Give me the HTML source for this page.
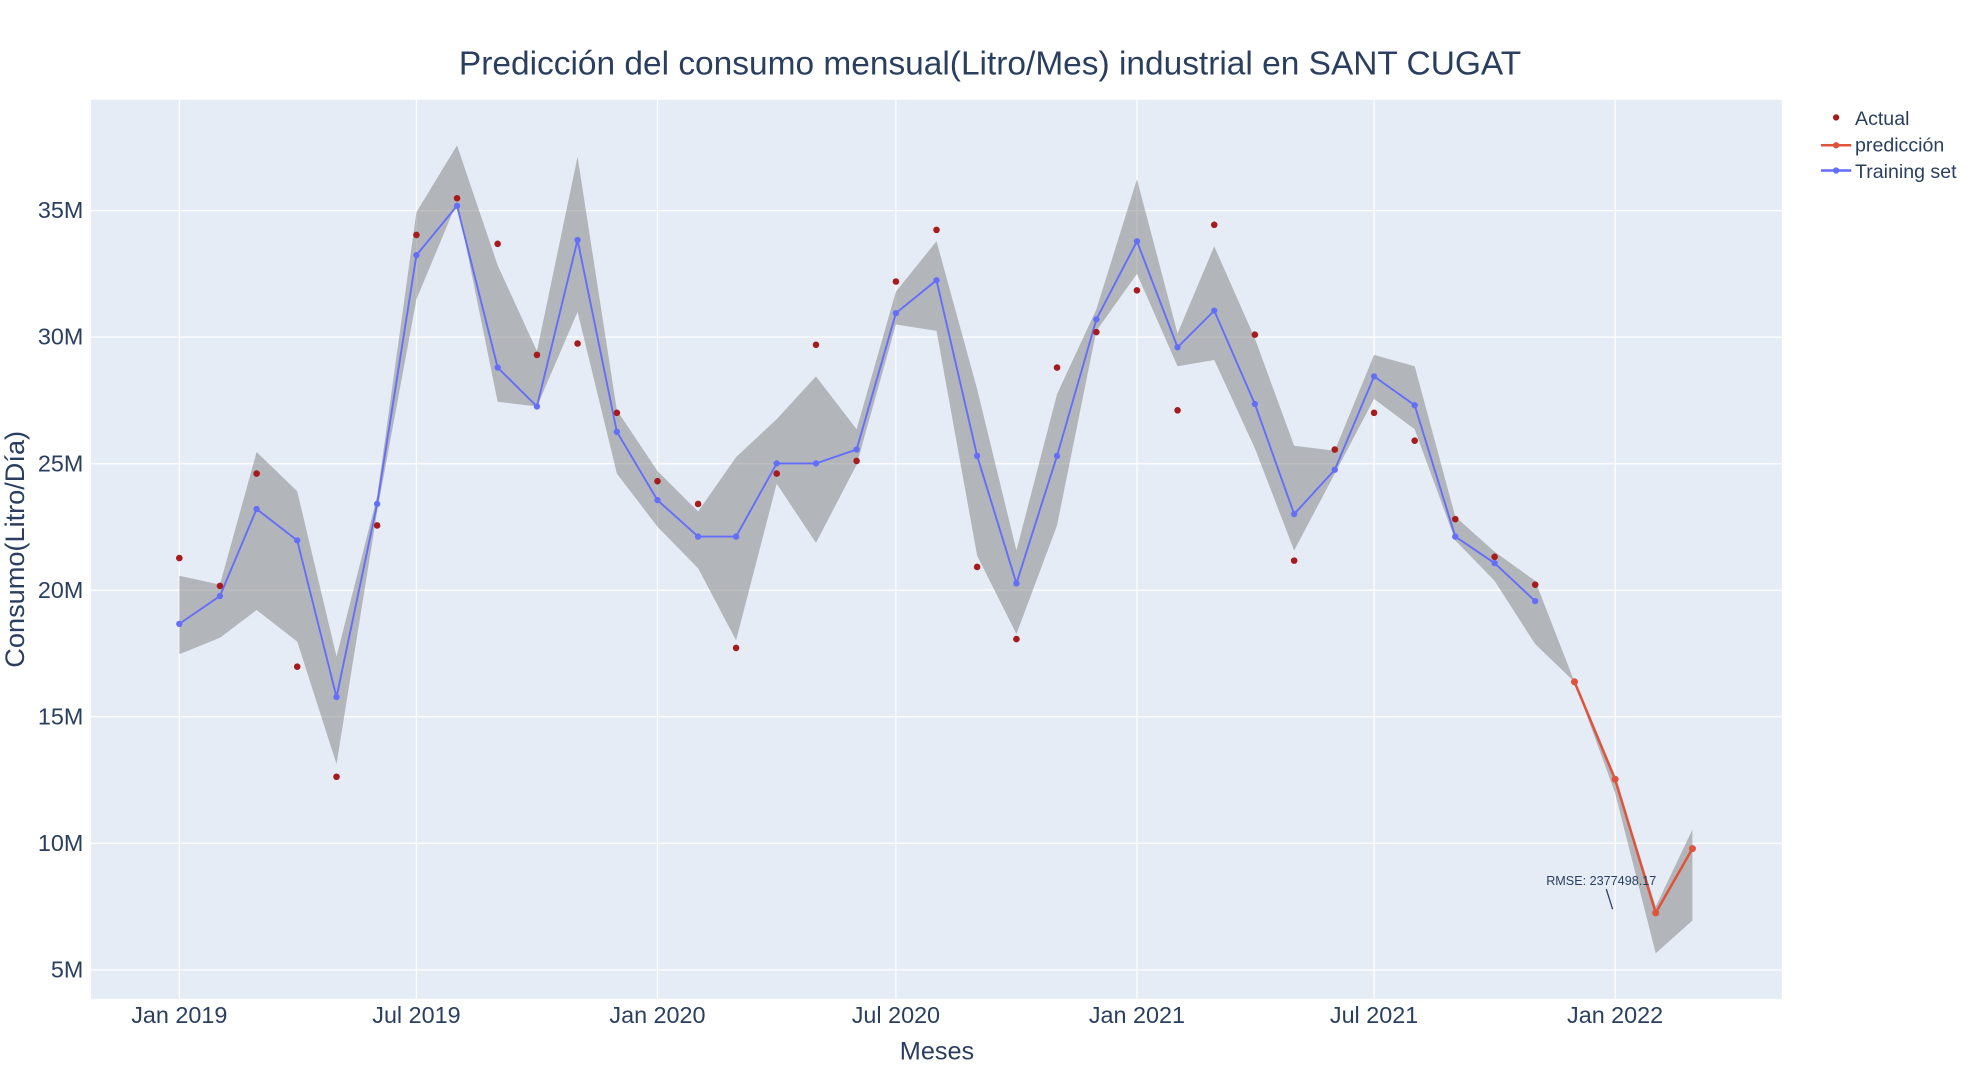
<!DOCTYPE html>
<html><head><meta charset="utf-8"><style>
html,body{margin:0;padding:0;background:#fff;}
svg{display:block;font-family:"Liberation Sans","DejaVu Sans",sans-serif;}
</style></head><body>
<svg id="chart" width="1980" height="1080">
<g id="root" transform="scale(1.2628)">
  <rect x="72" y="79" width="1339" height="712" fill="#e5ecf6"/>
  <g id="grid"></g>
  <g id="band"></g>
  <g id="lines"></g>
  <g id="ticks"></g>
  <text x="784" y="59" text-anchor="middle" font-size="26.5" fill="#2a3f5f">Predicción del consumo mensual(Litro/Mes) industrial en SANT CUGAT</text>
  <text x="742" y="839" text-anchor="middle" font-size="20" fill="#2a3f5f">Meses</text>
  <text transform="translate(19,435) rotate(-90)" text-anchor="middle" font-size="21.5" fill="#2a3f5f">Consumo(Litro/Día)</text>
  <text x="1268" y="701" text-anchor="middle" font-size="10" fill="#2a3f5f">RMSE: 2377498.17</text>
  <line x1="1272" y1="704" x2="1277" y2="720" stroke="#2a3f5f" stroke-width="1"/>
  <g>
    <g>
      <circle cx="1454" cy="93" r="2.5" fill="#a61c1c"/>
      <text x="1469" y="99" font-size="15.5" fill="#2a3f5f">Actual</text>
    </g>
    <g>
      <line x1="1442" y1="115" x2="1466" y2="115" stroke="#e0533a" stroke-width="2"/>
      <circle cx="1454" cy="115" r="2.5" fill="#e0533a"/>
      <text x="1469" y="120" font-size="15.5" fill="#2a3f5f">predicción</text>
    </g>
    <g>
      <line x1="1442" y1="135" x2="1466" y2="135" stroke="#636efa" stroke-width="2"/>
      <circle cx="1454" cy="135" r="2.5" fill="#636efa"/>
      <text x="1469" y="141" font-size="15.5" fill="#2a3f5f">Training set</text>
    </g>
  </g>
</g>
</svg>
<script>
const trainValues = [18.67,19.77,23.21,21.97,15.78,23.41,33.24,35.19,28.80,27.26,33.84,26.26,23.56,22.12,22.12,25.01,25.01,25.56,30.95,32.25,25.31,20.27,25.31,30.70,33.79,29.60,31.05,27.36,23.01,24.76,28.45,27.31,22.12,21.07,19.57];
const predValues = [16.38,12.53,7.25,9.79];
const actualValues = [21.27,20.17,24.61,16.98,12.63,22.56,34.04,35.49,33.69,29.30,29.75,27.01,24.31,23.41,17.72,24.61,29.70,25.11,32.20,34.24,20.92,18.07,28.80,30.20,31.85,27.11,34.44,30.10,21.17,25.56,27.01,25.91,22.81,21.32,20.22];
const bandUpper = [20.57,20.22,25.46,23.91,17.38,23.71,34.94,37.58,32.84,29.45,37.13,27.11,24.71,23.11,25.26,26.76,28.45,26.36,31.80,33.79,27.95,21.57,27.75,31.10,36.24,30.15,33.59,29.95,25.71,25.51,29.30,28.85,22.91,21.52,20.37,16.38,12.6,7.50,10.54];
const bandLower = [17.47,18.12,19.22,17.97,13.13,23.11,31.50,35.34,27.45,27.26,31.00,24.61,22.51,20.87,18.02,24.21,21.87,24.96,30.50,30.25,21.37,18.27,22.56,30.25,32.50,28.85,29.10,25.61,21.57,24.61,27.56,26.36,21.97,20.37,17.87,16.38,11.99,5.65,6.95];
const yTicks = [5,10,15,20,25,30,35];
const xTickLabels = ["Jan 2019","Jul 2019","Jan 2020","Jul 2020","Jan 2021","Jul 2021","Jan 2022"];
const xTickMonths = [0,6,12,18,24,30,36];

const NS="http://www.w3.org/2000/svg";
const base=Date.UTC(2019,0,1);
function monthDays(i){return (Date.UTC(2019,i,1)-base)/86400000;}
function X(i){return 142+monthDays(i)*1.0374;}
function Y(v){return 768-(v-5)*20.04;}
function mk(tag,attrs,parent){const e=document.createElementNS(NS,tag);for(const k in attrs)e.setAttribute(k,attrs[k]);parent.appendChild(e);return e;}

const grid=document.getElementById('grid'), ticks=document.getElementById('ticks');
yTicks.forEach(v=>{
  const l=mk('line',{x1:72,x2:1411,y1:Y(v),y2:Y(v),stroke:'#fff','stroke-width':1},grid);
  
  
  const t=mk('text',{x:66,y:Y(v)+6,'text-anchor':'end','font-size':18.5,fill:'#2a3f5f'},ticks);
  t.textContent=v+'M';
  
  
});
xTickMonths.forEach((m,i)=>{
  const l=mk('line',{x1:X(m),x2:X(m),y1:79,y2:791,stroke:'#fff','stroke-width':1},grid);
  
  
  const t=mk('text',{x:X(m),y:810,'text-anchor':'middle','font-size':18.5,fill:'#2a3f5f'},ticks);
  t.textContent=xTickLabels[i];
  
  
});

let pts=[];
bandUpper.forEach((v,i)=>pts.push(X(i)+','+Y(v)));
for(let i=bandLower.length-1;i>=0;i--)pts.push(X(i)+','+Y(bandLower[i]));
const band=mk('polygon',{points:pts.join(' '),fill:'rgba(128,128,128,0.5)',stroke:'none'},document.getElementById('band'));



const lines=document.getElementById('lines');
const tl=mk('polyline',{points:trainValues.map((v,i)=>X(i)+','+Y(v)).join(' '),fill:'none',stroke:'#636efa','stroke-width':1.5},lines);


trainValues.forEach((v,i)=>{
  const c=mk('circle',{cx:X(i),cy:Y(v),r:2.5,fill:'#636efa'},lines);
  
  
});
const off=trainValues.length;
const pl=mk('polyline',{points:predValues.map((v,i)=>X(off+i)+','+Y(v)).join(' '),fill:'none',stroke:'#e0533a','stroke-width':2},lines);


predValues.forEach((v,i)=>{
  const c=mk('circle',{cx:X(off+i),cy:Y(v),r:2.8,fill:'#e0533a'},lines);
  
  
});
actualValues.forEach((v,i)=>{
  const c=mk('circle',{cx:X(i),cy:Y(v),r:2.6,fill:'#a61c1c'},lines);
  
  
});
</script>
</body></html>
